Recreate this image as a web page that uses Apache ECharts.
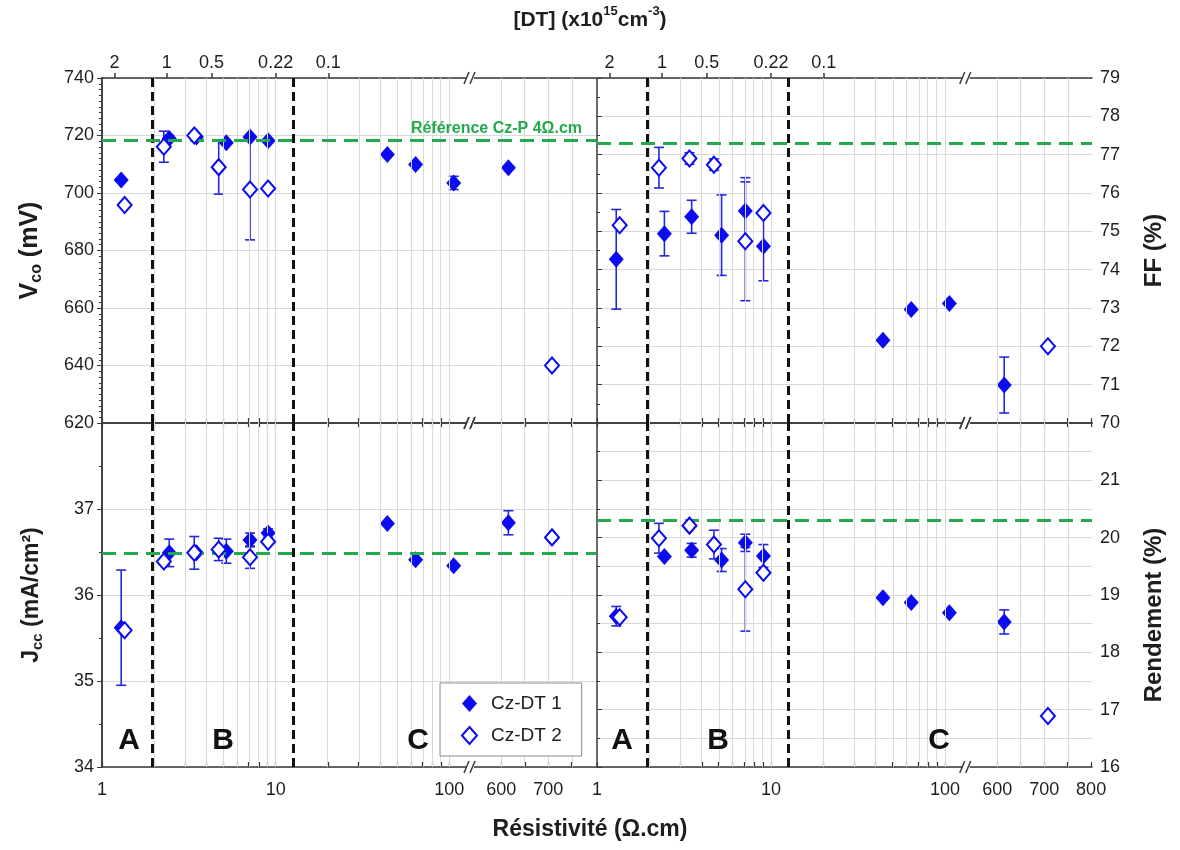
<!DOCTYPE html>
<html><head><meta charset="utf-8">
<script src="https://cdn.jsdelivr.net/npm/echarts@6/dist/echarts.min.js"></script>
<style>html,body{margin:0;padding:0;background:#fff}#c{width:1180px;height:850px}</style>
</head><body><div id="c"></div>
<script>
// ---------------- DATA ----------------
const rhoDT1 = [1.29, 2.44, 3.5, 5.2, 7.12, 9.05, 44, 64, 106, 615];
const rhoDT2 = [1.35, 2.27, 3.4, 4.7, 7.12, 9.05, 708];

const vcoDT1    = [704.5, 719.0, 719.5, 717.5, 719.5, 718.2, 713.4, 709.9, 703.5, 708.8];
const vcoErrDT1 = [0, 1.0, 0, 0, 0, 0, 0, 0, 2.3, 0];
const vcoDT2    = [695.8, 716.1, 720.0, 709.0, 701.2, 701.6, 640.0];
const vcoErrDT2 = [0, 5.4, 0, 9.4, 17.5, 0, 0];

const ffDT1    = [74.27, 74.94, 75.38, 74.90, 75.53, 74.61, 72.16, 72.96, 73.12, 70.99];
const ffErrDT1 = [1.3, 0.58, 0.43, 1.05, 0.87, 0.9, 0, 0, 0, 0.73];
const ffDT2    = [75.16, 76.66, 76.90, 76.74, 74.74, 75.48, 72.00];
const ffErrDT2 = [0, 0.53, 0.15, 0.15, 1.55, 0, 0];

const jccDT1    = [35.62, 36.49, 36.49, 36.51, 36.64, 36.72, 36.83, 36.41, 36.34, 36.84];
const jccErrDT1 = [0.67, 0.16, 0, 0.14, 0.08, 0.05, 0, 0, 0, 0.14];
const jccDT2    = [35.59, 36.39, 36.49, 36.53, 36.44, 36.62, 36.67];
const jccErrDT2 = [0, 0, 0.19, 0.13, 0.13, 0, 0];

const rendDT1    = [18.63, 19.67, 19.78, 19.61, 19.91, 19.68, 18.95, 18.87, 18.69, 18.53];
const rendErrDT1 = [0.17, 0, 0.12, 0.2, 0.15, 0.2, 0, 0, 0, 0.21];
const rendDT2    = [18.61, 19.99, 20.21, 19.88, 19.10, 19.39, 16.89];
const rendErrDT2 = [0, 0.26, 0.05, 0.25, 0.73, 0, 0];

const refVco = 718.3, refFF = 77.3, refJcc = 36.48, refRend = 20.3;
const zoneLimits = [1.97, 12.6];

const dtTickRho    = [1.18, 2.36, 4.27, 10.0, 20.1];
const dtTickLabels = ['2', '1', '0.5', '0.22', '0.1'];
const bottomTicksLeft  = [1, 10, 100, 600, 700];
const bottomTicksRight = [1, 10, 100, 600, 700, 800];
const minorRho = [2,3,4,5,6,7,8,9,20,30,40,50,60,70,80,90,650,750];

// ---------------- SCALE (log up to the break, linear after) ----------------
const LIN0 = 600, LIN_T0 = 2.30, LIN_K = 0.0027, X_MAX = 2.845, T_BREAK = 2.125;
function T(r){ return r < 300 ? Math.log10(r) : LIN_T0 + (r - LIN0) * LIN_K; }
function invT(t){ return t < 2.2 ? Math.pow(10, t) : LIN0 + (t - LIN_T0) / LIN_K; }

const FONT = '"Liberation Sans", Arial, Helvetica, sans-serif';
const BLUE = '#0b0bf0', BLUE_ERR = '#2727d8', GREEN = '#22aa4c';
const GRID_C = '#d9d9d9', AXIS_C = '#3a3a3a', TXT = '#1e1e1e';

const chart = echarts.init(document.getElementById('c'));

const grids = [
  {left:102, top:78,  width:494, height:345},
  {left:597, top:78,  width:495, height:345},
  {left:102, top:423, width:494, height:344},
  {left:597, top:423, width:495, height:344}
];

function tickList(ticks){
  return ticks.concat(minorRho).filter(v => T(v) <= X_MAX + 1e-9).map(T);
}

function makeXAxes(gi, showBottomLabels, showTopLabels, ticks){
  const majT = ticks.map(T);
  const tv = tickList(ticks);
  const bottom = {
    type:'value', gridIndex:gi, position:'bottom', min:0, max:X_MAX,
    axisLine:{show:true, onZero:false, lineStyle:{color:AXIS_C, width:1.5}},
    axisTick:{show:true, inside:true, length:5, customValues:tv, lineStyle:{color:AXIS_C, width:1.2}},
    axisLabel: showBottomLabels ? {show:true, customValues:majT,
      formatter: v => String(Math.round(invT(v))), fontSize:18, color:TXT, fontFamily:FONT, margin:14} : {show:false},
    splitLine:{show:false}
  };
  const dtT = dtTickRho.map(T);
  const top = {
    type:'value', gridIndex:gi, position:'top', min:0, max:X_MAX,
    axisLine:{show:true, onZero:false, lineStyle:{color:AXIS_C, width:1.5}},
    axisTick: showTopLabels ? {show:true, inside:false, length:5, customValues:dtT, lineStyle:{color:AXIS_C, width:1.5}}
                            : {show:true, inside:true, length:4, customValues:tv, lineStyle:{color:AXIS_C, width:1.2}},
    axisLabel: showTopLabels ? {show:true, customValues:dtT,
      formatter: v => { let bi = 0, bd = 1e9; dtT.forEach((t,i)=>{ const d=Math.abs(t-v); if(d<bd){bd=d;bi=i;} }); return dtTickLabels[bi]; },
      fontSize:18, color:TXT, fontFamily:FONT, margin:6} : {show:false},
    splitLine:{show:false}
  };
  return [bottom, top];
}

const nameRich = {
  m:{fontSize:25, fontWeight:'bold', fontFamily:FONT, color:TXT, verticalAlign:'top', lineHeight:27, padding:[0,0,4,0]},
  s:{fontSize:16, fontWeight:'bold', fontFamily:FONT, color:TXT, verticalAlign:'bottom', lineHeight:16},
  m2:{fontSize:23, fontWeight:'bold', fontFamily:FONT, color:TXT, verticalAlign:'top', lineHeight:25, padding:[0,0,4,0]},
  s2:{fontSize:15, fontWeight:'bold', fontFamily:FONT, color:TXT, verticalAlign:'bottom', lineHeight:15}
};

function makeYAxes(gi, cfg){
  const labeled = {
    type:'value', gridIndex:gi, position:cfg.side, min:cfg.min, max:cfg.max, interval:cfg.interval,
    axisLine:{show:true, lineStyle:{color:AXIS_C, width:1.5}},
    axisTick:{show:true, length:5, lineStyle:{color:AXIS_C}},
    minorTick:{show:true, splitNumber:cfg.minor, length:3, lineStyle:{color:AXIS_C}},
    axisLabel:{show:true, fontSize:18, color:TXT, fontFamily:FONT, margin:8, showMaxLabel:cfg.showMax},
    splitLine:{show:true, lineStyle:{color:GRID_C, width:1}},
    minorSplitLine:{show:!!cfg.minorGrid, lineStyle:{color:GRID_C, width:1}},
    name:cfg.name, nameLocation:'middle', nameRotate:90, nameGap:cfg.nameGap,
    nameTextStyle:{rich:nameRich, fontSize:24, fontWeight:'bold', fontFamily:FONT, color:TXT, padding:cfg.namePad || 0}
  };
  const other = {
    type:'value', gridIndex:gi, position:cfg.side === 'left' ? 'right' : 'left',
    min:cfg.min, max:cfg.max, interval:cfg.interval,
    axisLine:{show:cfg.side === 'left', lineStyle:{color:AXIS_C, width:1.5}},
    axisTick:{show:true, inside:true, length:5, lineStyle:{color:AXIS_C}},
    minorTick:{show:true, splitNumber:cfg.minor, length:3, lineStyle:{color:AXIS_C}},
    axisLabel:{show:false}, splitLine:{show:false}
  };
  return [labeled, other];
}

const xAxes = [].concat(
  makeXAxes(0, false, true, bottomTicksLeft),
  makeXAxes(1, false, true, bottomTicksRight),
  makeXAxes(2, true, false, bottomTicksLeft),
  makeXAxes(3, true, false, bottomTicksRight)
);
const yAxes = [].concat(
  makeYAxes(0, {side:'left',  min:620, max:740, interval:20, minor:10, showMax:true, nameGap:57, name:'{m|V}{s|co}{m| (mV)}'}),
  makeYAxes(1, {side:'right', min:70,  max:79,  interval:1,  minor:2,  showMax:true, nameGap:50, name:'FF (%)'}),
  makeYAxes(2, {side:'left',  min:34,  max:38,  interval:1,  minor:2,  showMax:false, nameGap:57, name:'{m2|J}{s2|cc}{m2| (mA/cm²)}'}),
  makeYAxes(3, {side:'right', min:16,  max:22,  interval:1,  minor:2,  showMax:false, nameGap:50, name:'Rendement (%)', minorGrid:true, namePad:[0,40,0,0]})
);

function errRender(params, api){
  const x = api.value(0), y = api.value(1), e = api.value(2);
  if (!e) return null;
  const hi = api.coord([x, y + e]), lo = api.coord([x, y - e]);
  const w = 5, st = {stroke:BLUE_ERR, lineWidth:1.6};
  return {type:'group', children:[
    {type:'line', shape:{x1:hi[0], y1:hi[1], x2:lo[0], y2:lo[1]}, style:st},
    {type:'line', shape:{x1:hi[0]-w, y1:hi[1], x2:hi[0]+w, y2:hi[1]}, style:st},
    {type:'line', shape:{x1:lo[0]-w, y1:lo[1], x2:lo[0]+w, y2:lo[1]}, style:st}
  ]};
}

const panels = [
  {gi:0, y1:vcoDT1, e1:vcoErrDT1, y2:vcoDT2, e2:vcoErrDT2, ref:refVco, refLabel:true, ticks:bottomTicksLeft},
  {gi:1, y1:ffDT1,  e1:ffErrDT1,  y2:ffDT2,  e2:ffErrDT2,  ref:refFF,  refLabel:false, ticks:bottomTicksRight},
  {gi:2, y1:jccDT1, e1:jccErrDT1, y2:jccDT2, e2:jccErrDT2, ref:refJcc, refLabel:false, ticks:bottomTicksLeft},
  {gi:3, y1:rendDT1,e1:rendErrDT1,y2:rendDT2,e2:rendErrDT2,ref:refRend,refLabel:false, ticks:bottomTicksRight}
];

const series = [];
panels.forEach(p => {
  const xi = p.gi * 2, yi = p.gi * 2;
  const d1 = rhoDT1.map((r,i) => [T(r), p.y1[i], p.e1[i]]);
  const d2 = rhoDT2.map((r,i) => [T(r), p.y2[i], p.e2[i]]);
  const gridVals = p.ticks.concat(minorRho).filter(v => T(v) < X_MAX - 0.01 && T(v) > 0.01);
  const mlData = gridVals.map(v => ({xAxis:T(v), lineStyle:{color:GRID_C, width:1, type:'solid'}, label:{show:false}}));
  zoneLimits.forEach(z => mlData.push({xAxis:T(z), lineStyle:{color:'#111', width:3, type:[9,5]}, label:{show:false}}));
  mlData.push({yAxis:p.ref, lineStyle:{color:GREEN, width:3, type:[14,8]},
    label: p.refLabel ? {show:true, position:'insideEndTop', formatter:'Référence Cz-P 4Ω.cm', color:GREEN,
      fontSize:16, fontWeight:'bold', fontFamily:FONT, distance:[14,4]} : {show:false}});
  series.push({type:'scatter', name:'_lines'+p.gi, xAxisIndex:xi, yAxisIndex:yi, data:[], z:1, silent:true,
    markLine:{silent:true, symbol:'none', animation:false, data:mlData}});
  series.push({type:'custom', name:'_err1_'+p.gi, xAxisIndex:xi, yAxisIndex:yi, renderItem:errRender,
    encode:{x:0, y:1}, data:d1, z:3, silent:true});
  series.push({type:'custom', name:'_err2_'+p.gi, xAxisIndex:xi, yAxisIndex:yi, renderItem:errRender,
    encode:{x:0, y:1}, data:d2, z:3, silent:true});
  series.push({type:'scatter', name:'Cz-DT 1', xAxisIndex:xi, yAxisIndex:yi, data:d1.map(d=>[d[0],d[1]]),
    symbol:'diamond', symbolSize:[15,17], itemStyle:{color:BLUE, opacity:1}, z:4});
  series.push({type:'scatter', name:'Cz-DT 2', xAxisIndex:xi, yAxisIndex:yi, data:d2.map(d=>[d[0],d[1]]),
    symbol:'diamond', symbolSize:[14,16], itemStyle:{color:'#ffffff', borderColor:BLUE, borderWidth:2, opacity:1}, z:5});
});

const option = {
  animation:false,
  backgroundColor:'#ffffff',
  textStyle:{fontFamily:FONT},
  title:[
    {text:'{b|[DT] (x10}{p|15}{b|cm}{p|-3}{b|)}', left:'center', top:0,
     textStyle:{rich:{
       b:{fontSize:21, fontWeight:'bold', fontFamily:FONT, color:TXT, verticalAlign:'bottom', lineHeight:26},
       p:{fontSize:13, fontWeight:'bold', fontFamily:FONT, color:TXT, verticalAlign:'top', lineHeight:15}}}},
    {text:'Résistivité (Ω.cm)', left:'center', top:813,
     textStyle:{fontSize:23, fontWeight:'bold', fontFamily:FONT, color:TXT}}
  ],
  legend:{
    data:['Cz-DT 1','Cz-DT 2'], orient:'vertical', left:440, top:683,
    padding:[11,20,11,21], itemGap:13, itemWidth:15, itemHeight:17,
    backgroundColor:'#fff', borderColor:'#8a8a8a', borderWidth:1, borderRadius:0,
    textStyle:{fontSize:19, color:TXT, fontFamily:FONT, padding:[0,0,0,9]}, selectedMode:false, z:10
  },
  grid:grids,
  xAxis:xAxes,
  yAxis:yAxes,
  series:series
};
chart.setOption(option);

// break marks and zone letters
const gfx = [];
[0,1,2,3].forEach(gi => {
  const g = grids[gi];
  const bx = chart.convertToPixel({xAxisIndex:gi*2}, T_BREAK);
  [g.top, g.top + g.height].forEach(y => {
    gfx.push({type:'rect', shape:{x:bx-4, y:y-2, width:7, height:4}, style:{fill:'#fff'}, z:20});
    gfx.push({type:'line', shape:{x1:bx-7, y1:y+6, x2:bx-2, y2:y-6}, style:{stroke:AXIS_C, lineWidth:1.5}, z:21});
    gfx.push({type:'line', shape:{x1:bx-1, y1:y+6, x2:bx+4, y2:y-6}, style:{stroke:AXIS_C, lineWidth:1.5}, z:21});
  });
});
const letters = [['A',129,741],['B',223,741],['C',418,741],['A',622,741],['B',718,741],['C',939,741]];
letters.forEach(l => gfx.push({type:'text', x:l[1], y:l[2], z:20,
  style:{text:l[0], fill:'#111', font:'bold 30px ' + FONT, textAlign:'center', textVerticalAlign:'middle'}}));
chart.setOption({graphic:gfx});
</script>
</body></html>
